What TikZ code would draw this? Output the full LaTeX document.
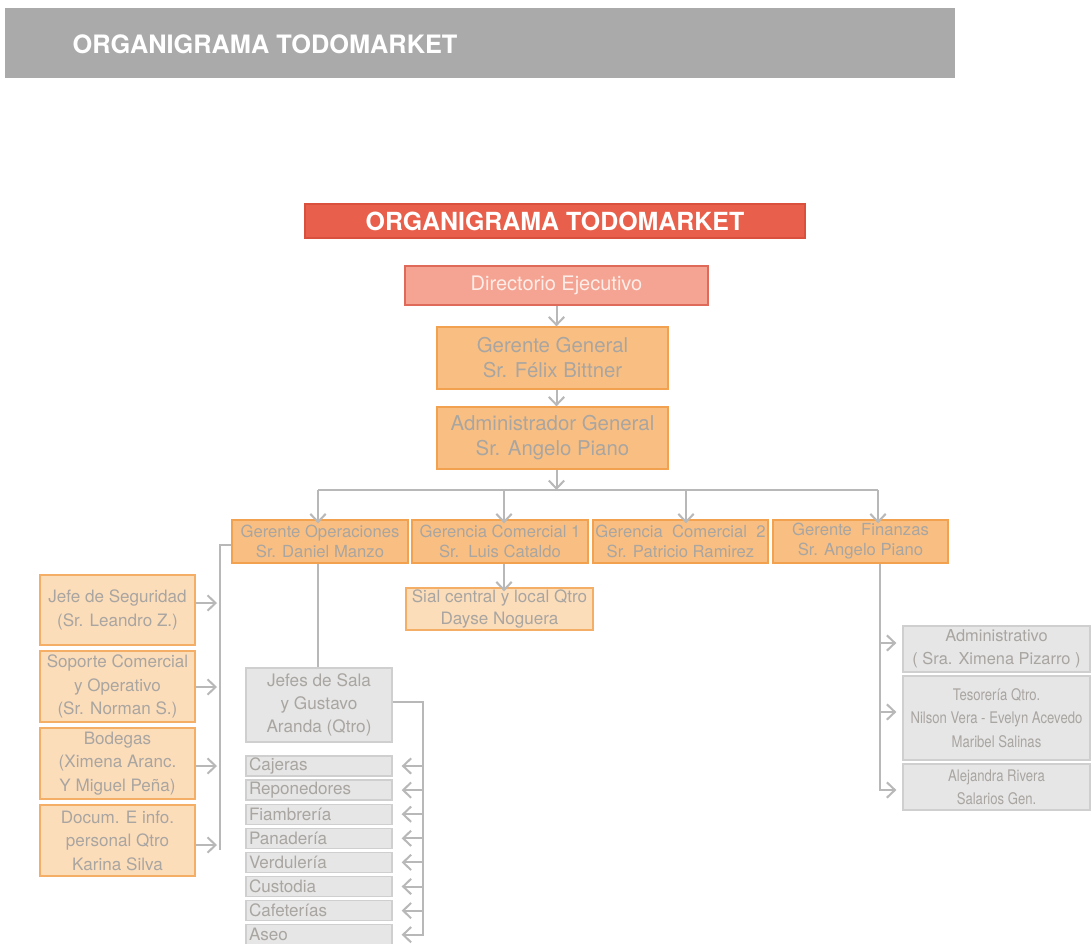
\documentclass[tikz,border=0pt]{standalone}
\usepackage{fontspec}
\setmainfont{TeX Gyre Heros}
\newfontfamily\narrowfont[FakeStretch=0.82]{TeX Gyre Heros}
\usetikzlibrary{arrows.meta}

\definecolor{bannergray}{HTML}{A9AAA9}
\definecolor{titlered}{HTML}{E8604B}
\definecolor{titleline}{HTML}{D9503D}
\definecolor{dirfill}{HTML}{F5A493}
\definecolor{dirline}{HTML}{E06A5A}
\definecolor{dirtext}{HTML}{FDEDE8}
\definecolor{orfill}{HTML}{F9BF82}
\definecolor{orline}{HTML}{F2A24F}
\definecolor{palefill}{HTML}{FCDDBA}
\definecolor{paleline}{HTML}{F4AE66}
\definecolor{grfill}{HTML}{E6E6E6}
\definecolor{grline}{HTML}{CFCFCF}
\definecolor{txtgray}{HTML}{A9A5A1}
\definecolor{lngray}{HTML}{B8B8B8}

\tikzset{
  dims/.style 2 args={minimum width=#1*0.75pt, minimum height=#2*0.75pt},
  box/.style={draw, line width=1pt, align=center, inner sep=0pt, text=txtgray},
  orangebox/.style={box, fill=orfill, draw=orline},
  palebox/.style={box, fill=palefill, draw=paleline},
  graybox/.style={box, fill=grfill, draw=grline},
  itembox/.style={graybox, align=left, text width=140*0.75pt, inner xsep=3*0.75pt,
    minimum height=20*0.75pt, font=\fontsize{12.8}{15}\selectfont},
  link/.style={draw=lngray, line width=1.5pt},
  arr/.style={link, -{Straight Barb[length=6pt,width=11.5pt,line width=1.5pt]}},
  bigtext/.style={font=\fontsize{15.3}{18.75}\selectfont},
  midtext/.style={font=\fontsize{12.5}{15}\selectfont},
  sidetext/.style={font=\fontsize{12.8}{17.6}\selectfont},
}

\begin{document}
\begin{tikzpicture}[x=0.75pt,y=-0.75pt]
\useasboundingbox (0,0) rectangle (1092,943);
\fill[white] (0,0) rectangle (1092,943);

% page banner
\node (banner) [fill=bannergray, dims={950}{70}, inner sep=0pt] at (480,43) {};
\node (bannertitle) [anchor=west, text=white, font=\fontsize{19}{22}\bfseries\selectfont] at (68,44) {ORGANIGRAMA TODOMARKET};

% chart heading
\node (title) [fill=titlered, draw=titleline, line width=1pt, dims={500}{34}, inner sep=0pt,
  text=white, font=\fontsize{18.7}{22}\bfseries\selectfont] at (555,221) {ORGANIGRAMA TODOMARKET};

% top levels
\node (direc) [box, fill=dirfill, draw=dirline, dims={303}{39}, text=dirtext,
  font=\fontsize{15}{18}\selectfont] at (556.5,285.5) {Directorio Ejecutivo};
\node (gg) [orangebox, dims={231}{62}, bigtext] at (552.5,358) {Gerente General\\Sr. Félix Bittner};
\node (admin) [orangebox, dims={231}{62}, bigtext] at (552.5,438) {Administrador General\\Sr. Angelo Piano};

% second level
\node (op)  [orangebox, dims={176}{43}, midtext] at (320,541.5) {Gerente Operaciones\\Sr. Daniel Manzo};
\node (c1)  [orangebox, dims={176}{43}, midtext] at (500,541.5) {Gerencia Comercial 1\\Sr.\ \ Luis Cataldo};
\node (c2)  [orangebox, dims={175}{43}, midtext] at (680.5,541.5) {Gerencia\ \ Comercial\ \ 2\\Sr. Patricio Ramirez};
\node (fin) [orangebox, dims={175}{43}, midtext] at (860.5,541.5) {Gerente\ \ Finanzas\\Sr. Angelo Piano};

\node (sial) [palebox, dims={187}{42}, font=\fontsize{12.8}{16.5}\selectfont] at (499.5,609) {Sial central y local Qtro\\Dayse Noguera};

% operations staff (left column)
\node (js) [palebox, dims={155}{70}, sidetext] at (117.5,610)   {Jefe de Seguridad\\(Sr. Leandro Z.)};
\node (sc) [palebox, dims={155}{71}, sidetext] at (117.5,686.5) {Soporte Comercial\\y Operativo\\(Sr. Norman S.)};
\node (bo) [palebox, dims={155}{71}, sidetext] at (117.5,763.5) {Bodegas\\(Ximena Aranc.\\Y Miguel Peña)};
\node (dc) [palebox, dims={155}{71}, sidetext] at (117.5,840.5) {Docum. E info.\\personal Qtro\\Karina Silva};

% floor staff
\node (jefes) [graybox, dims={146}{74}, font=\fontsize{12.9}{17.25}\selectfont] at (319,705) {Jefes de Sala\\y Gustavo\\Aranda (Qtro)};
\node (i1) [itembox] at (319,766)   {Cajeras};
\node (i2) [itembox] at (319,790.1) {Reponedores};
\node (i3) [itembox] at (319,814.2) {Fiambrería};
\node (i4) [itembox] at (319,838.3) {Panadería};
\node (i5) [itembox] at (319,862.4) {Verdulería};
\node (i6) [itembox] at (319,886.5) {Custodia};
\node (i7) [itembox] at (319,910.6) {Cafeterías};
\node (i8) [itembox] at (319,934.7) {Aseo};

% finance staff
\node (adm) [graybox, dims={187}{46}, font=\fontsize{12.3}{17.25}\selectfont] at (996.5,649) {Administrativo\\( Sra. Ximena Pizarro )};
\node (tes) [graybox, dims={187}{84}, font=\narrowfont\fontsize{12}{17.6}\selectfont] at (996.5,718) {Tesorería Qtro.\\Nilson Vera - Evelyn Acevedo\\Maribel Salinas};
\node (ale) [graybox, dims={187}{46}, font=\narrowfont\fontsize{12}{17.25}\selectfont] at (996.5,787) {Alejandra Rivera\\Salarios Gen.};

% helper points of the connectors
\coordinate (busL) at (318,490);
\coordinate (busC1) at (504,490);
\coordinate (busC2) at (686,490);
\coordinate (busR) at (878,490);
\coordinate (ltop) at (220,545);
\coordinate (lbot) at (220,850);
\coordinate (a1) at (0,603);
\coordinate (a2) at (0,687);
\coordinate (a3) at (0,766);
\coordinate (a4) at (0,845);
\coordinate (rtop) at (423,702);
\coordinate (fx) at (880,0);
\coordinate (f1) at (0,643);
\coordinate (f2) at (0,712);
\coordinate (f3) at (0,790);

% top chain
\draw[arr] (direc.south) -- (direc.south |- gg.north);
\draw[arr] (gg.south -| direc) -- (admin.north -| direc);
\draw[arr] (admin.south -| direc) -- (busL -| direc);
\draw[link] (busL) -- (busR);
\draw[arr] (busL) -- ([yshift=-4*0.75pt]busL |- op.north);
\draw[arr] (busC1) -- ([yshift=-4*0.75pt]busC1 |- c1.north);
\draw[arr] (busC2) -- ([yshift=-4*0.75pt]busC2 |- c2.north);
\draw[arr] (busR) -- ([yshift=-4*0.75pt]busR |- fin.north);
\draw[arr] (c1.south -| busC1) -- ([yshift=-4*0.75pt]busC1 |- sial.north);

% operations: left trunk
\draw[link] (ltop -| op.west) -- (ltop) -- (lbot);
\draw[arr] (js.east |- a1) -- ([xshift=-3*0.75pt]ltop |- a1);
\draw[arr] (sc.east |- a2) -- ([xshift=-3*0.75pt]ltop |- a2);
\draw[arr] (bo.east |- a3) -- ([xshift=-3*0.75pt]ltop |- a3);
\draw[arr] (dc.east |- a4) -- ([xshift=-3*0.75pt]ltop |- a4);

% operations: floor staff trunk
\draw[link] (op.south -| busL) -- (jefes.north -| busL);
\draw[arr] (jefes.east |- rtop) -- (rtop) -- (rtop |- i8) -- ([xshift=9*0.75pt]i8.east);
\foreach \i in {i1,i2,i3,i4,i5,i6,i7}
  \draw[arr] (rtop |- \i) -- ([xshift=9*0.75pt]\i.east);

% finance trunk
\draw[arr] (fin.south -| fx) -- (fx |- f3) -- ([xshift=-6*0.75pt]ale.west |- f3);
\draw[arr] (fx |- f1) -- ([xshift=-6*0.75pt]adm.west |- f1);
\draw[arr] (fx |- f2) -- ([xshift=-6*0.75pt]tes.west |- f2);
\end{tikzpicture}
\end{document}
